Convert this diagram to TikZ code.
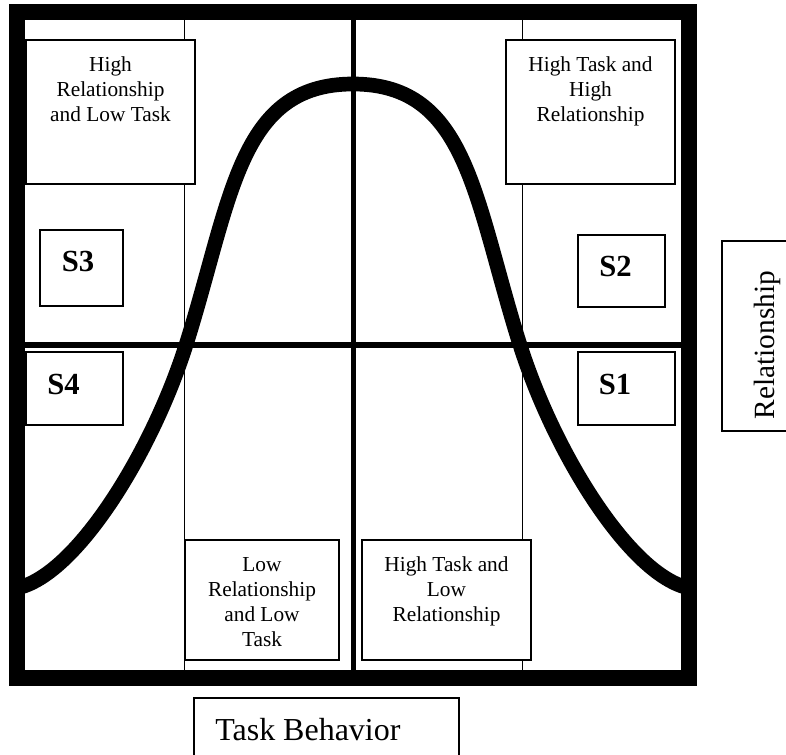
\documentclass[tikz,border=0pt]{standalone}
\usepackage{fontspec}
\setmainfont{Liberation Serif}

\begin{document}
\begin{tikzpicture}[x=0.75pt, y=-0.75pt,
        outerframe/.style={line width=12pt},
        midline/.style={line width=4pt},
        thinline/.style={line width=0.75pt},
        bell/.style={line width=11pt},
        panel/.style={draw, fill=white, line width=1pt},
        boxtext/.style={anchor=north, align=center, inner sep=0pt, font=\fontsize{16}{18.75}\selectfont},
        stage/.style={inner sep=0pt, font=\fontsize{23}{27}\selectfont\bfseries},
        axislabel/.style={inner sep=0pt, font=\fontsize{24}{28}\selectfont}]
        \useasboundingbox (0,0) rectangle (786,755);
        % grid lines
        \draw[thinline] (184,20) -- (184,670);
        \draw[thinline] (522,20) -- (522,670);
        \draw[midline] (353.5,20) -- (353.5,670);
        \draw[midline] (25,345) -- (681,345);
        % the bell curve
        \draw[bell] (17,588) .. controls (75,576) and (151,455) .. (186,345)
                    .. controls (232,199) and (238,84) .. (353,84)
                    .. controls (468,84) and (474,199) .. (520,345)
                    .. controls (555,455) and (631,576) .. (689,588);
        % boxes
        \draw[panel] (26,40) rectangle (195,184);
        \draw[panel] (506,40) rectangle (675,184);
        \draw[panel] (40,230) rectangle (123,306);
        \draw[panel] (578,235) rectangle (665,307);
        \draw[panel] (26,352) rectangle (123,425);
        \draw[panel] (578,352) rectangle (675,425);
        \draw[panel] (185,540) rectangle (339,660);
        \draw[panel] (362,540) rectangle (531,660);
        \draw[panel] (194,698) rectangle (459,775);
        \draw[panel] (722,241) rectangle (800,431);
        \node[boxtext] (hrlt) at (110.5,56) {High\\Relationship\\and Low Task};
        \node[boxtext] (hthr) at (590.5,56) {High Task and\\High\\Relationship};
        \node[boxtext] (lrlt) at (262,557) {Low\\Relationship\\and Low\\Task};
        \node[boxtext] (htlr) at (446.5,556) {High Task and\\Low\\Relationship};
        \node[stage] (s3) at (78,262) {S3};
        \node[stage] (s2) at (615.5,267) {S2};
        \node[stage] (s4) at (63.5,384) {S4};
        \node[stage] (s1) at (615,384) {S1};
        \node[axislabel, anchor=base west] (task) at (215,740) {Task Behavior};
        \node[axislabel, rotate=90, anchor=base, font=\fontsize{22}{26}\selectfont] (rel) at (774,345) {Relationship};
        % outer frame
        \draw[outerframe] (17,12) rectangle (689,678);
\end{tikzpicture}
\end{document}
